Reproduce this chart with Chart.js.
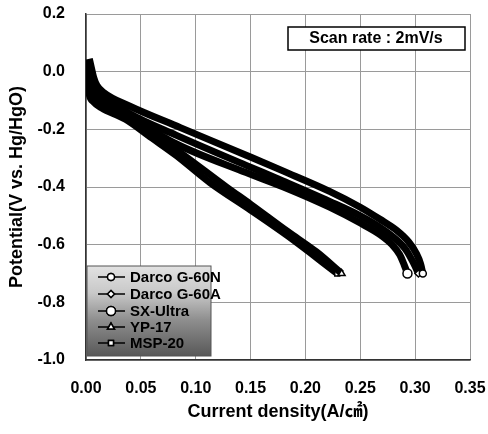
<!DOCTYPE html>
<html>
<head>
<meta charset="utf-8">
<script src="https://cdn.jsdelivr.net/npm/chart.js@4.4.1/dist/chart.umd.min.js"></script>
<style>
  html, body { margin: 0; padding: 0; background: #fff; }
  #wrap { width: 488px; height: 434px; position: relative; }
</style>
</head>
<body>
<div id="wrap"><canvas id="polarization-chart"></canvas></div>
<script>
// Axis ticks
const xTicks = [0, 0.05, 0.10, 0.15, 0.20, 0.25, 0.30, 0.35];
const yTicks = [-1.0, -0.8, -0.6, -0.4, -0.2, 0.0, 0.2];

// Series names (legend order)
const seriesNames = ['Darco G-60N', 'Darco G-60A', 'SX-Ultra', 'YP-17', 'MSP-20'];

// Darco G-60N
const g60nX = [0.003, 0.005, 0.007, 0.01, 0.016, 0.04, 0.086, 0.146, 0.18, 0.222, 0.25, 0.268, 0.283, 0.294, 0.301, 0.305, 0.307];
const g60nY = [0.045, 0.012, -0.02, -0.048, -0.072, -0.12, -0.194, -0.29, -0.345, -0.415, -0.47, -0.512, -0.55, -0.59, -0.63, -0.667, -0.70];

// Darco G-60A
const g60aX = [0.002, 0.003, 0.005, 0.009, 0.016, 0.041, 0.082, 0.146, 0.18, 0.222, 0.25, 0.268, 0.282, 0.292, 0.298, 0.303];
const g60aY = [0.04, 0.005, -0.03, -0.058, -0.085, -0.148, -0.22, -0.325, -0.38, -0.45, -0.50, -0.54, -0.58, -0.62, -0.66, -0.70];

// SX-Ultra
const sxX = [0.001, 0.002, 0.004, 0.008, 0.016, 0.041, 0.082, 0.146, 0.18, 0.222, 0.25, 0.268, 0.279, 0.286, 0.29, 0.293];
const sxY = [0.035, -0.005, -0.042, -0.07, -0.095, -0.158, -0.25, -0.35, -0.40, -0.47, -0.525, -0.565, -0.60, -0.635, -0.67, -0.70];

// YP-17
const yp17X = [0.001, 0.002, 0.004, 0.008, 0.016, 0.041, 0.082, 0.128, 0.15, 0.184, 0.21, 0.233];
const yp17Y = [0.03, -0.02, -0.06, -0.085, -0.11, -0.165, -0.27, -0.40, -0.46, -0.555, -0.625, -0.70];

// MSP-20
const mspX = [0.001, 0.0015, 0.003, 0.007, 0.014, 0.036, 0.06, 0.082, 0.113, 0.15, 0.184, 0.229];
const mspY = [0.025, -0.04, -0.08, -0.105, -0.125, -0.165, -0.23, -0.29, -0.385, -0.48, -0.57, -0.70];

const seriesX = [g60nX, g60aX, sxX, yp17X, mspX];
const seriesY = [g60nY, g60aY, sxY, yp17Y, mspY];
const markerStyles = ['circle', 'rectRot', 'circle', 'triangle', 'rect'];
const markerSizes = [3.5, 3.5, 4.5, 4, 3.5];

const boldFont = "'Liberation Sans', Arial, Helvetica, sans-serif";

// build datasets, markers only show on the last point (the rest is hidden in the thick band)
const datasets = seriesNames.map((name, i) => ({
  label: name,
  data: seriesX[i].map((x, j) => ({ x: x, y: seriesY[i][j] })),
  borderColor: '#000',
  borderWidth: 7,
  cubicInterpolationMode: 'monotone',
  pointStyle: markerStyles[i],
  pointRadius: (ctx) => (ctx.dataIndex === seriesX[i].length - 1 ? markerSizes[i] : 0),
  pointBackgroundColor: '#fff',
  pointBorderColor: '#000',
  pointBorderWidth: 1.5,
  fill: false,
}));

// Draw the scan rate note and the shaded legend box inside the plot
const overlayPlugin = {
  id: 'overlay',
  afterDatasetsDraw(chart) {
    const ctx = chart.ctx;
    ctx.save();

    // scan rate box
    ctx.fillStyle = '#fff';
    ctx.fillRect(288, 27, 177, 23);
    ctx.strokeStyle = '#000';
    ctx.lineWidth = 1.5;
    ctx.strokeRect(288, 27, 177, 23);
    ctx.fillStyle = '#000';
    ctx.font = 'bold 16px ' + boldFont;
    ctx.textAlign = 'center';
    ctx.textBaseline = 'middle';
    ctx.fillText('Scan rate : 2mV/s', 376, 39);

    // legend box with dark gradient
    const lx = 87, ly = 266, lw = 124, lh = 90;
    const grad = ctx.createLinearGradient(0, ly, 0, ly + lh);
    grad.addColorStop(0, '#e2e2e2');
    grad.addColorStop(0.3, '#c8c8c8');
    grad.addColorStop(0.6, '#8e8e8e');
    grad.addColorStop(1, '#585858');
    ctx.fillStyle = grad;
    ctx.fillRect(lx, ly, lw, lh);
    ctx.strokeStyle = '#555';
    ctx.lineWidth = 1;
    ctx.strokeRect(lx, ly, lw, lh);

    const rows = [277, 294, 311, 327, 343];
    ctx.font = 'bold 15px ' + boldFont;
    ctx.textAlign = 'left';
    rows.forEach((ry, i) => {
      ctx.strokeStyle = '#000';
      ctx.lineWidth = 1.5;
      ctx.beginPath();
      ctx.moveTo(98, ry);
      ctx.lineTo(125, ry);
      ctx.stroke();
      Chart.helpers.drawPoint(ctx, {
        pointStyle: markerStyles[i],
        radius: markerSizes[i],
        borderWidth: 1.5,
      }, 111, ry);
      ctx.fillStyle = '#fff';
      ctx.fill();
      ctx.stroke();
      ctx.fillStyle = '#000';
      ctx.fillText(seriesNames[i], 130, ry + 1);
    });

    ctx.restore();
  }
};

// invisible tick marks are used as the gap between axis and labels
// (ticks.padding would also push the plot area inward)
const xGrid = {
  color: '#9a9a9a',
  lineWidth: 1,
  drawTicks: true,
  tickLength: 19,
  tickColor: 'rgba(0,0,0,0)',
};
const yGrid = {
  color: '#9a9a9a',
  lineWidth: 1,
  drawTicks: true,
  tickLength: 21,
  tickColor: 'rgba(0,0,0,0)',
};

const ctx = document.getElementById('polarization-chart').getContext('2d');
const chart = new Chart(ctx, {
  type: 'line',
  data: { datasets: datasets },
  options: {
    responsive: true,
    maintainAspectRatio: false,
    animation: false,
    layout: { padding: { top: 14, right: 18, left: 0, bottom: 0 } },
    scales: {
      x: {
        type: 'linear',
        min: 0,
        max: 0.35,
        afterFit: (scale) => { scale.height = 74; },
        afterBuildTicks: (scale) => { scale.ticks = xTicks.map((v) => ({ value: v })); },
        ticks: {
          padding: 0,
          color: '#000',
          font: { family: boldFont, size: 16, weight: 'bold' },
          callback: (v) => v.toFixed(2),
        },
        grid: xGrid,
        border: { display: true, color: '#333', width: 1.5 },
        title: {
          display: true,
          text: 'Current density(A/㎠)',
          color: '#000',
          font: { family: boldFont + ", 'Noto Sans CJK KR'", size: 18, weight: 'bold' },
          padding: { top: 0, bottom: 11 },
        },
      },
      y: {
        type: 'linear',
        min: -1.0,
        max: 0.2,
        afterFit: (scale) => { scale.width = 86; },
        afterBuildTicks: (scale) => { scale.ticks = yTicks.map((v) => ({ value: v })); },
        ticks: {
          padding: 0,
          color: '#000',
          font: { family: boldFont, size: 16, weight: 'bold' },
          callback: (v) => (Math.abs(v) < 1e-9 ? '0.0' : v.toFixed(1)),
        },
        grid: yGrid,
        border: { display: true, color: '#333', width: 1.5 },
        title: {
          display: true,
          text: 'Potential(V vs. Hg/HgO)',
          color: '#000',
          font: { family: boldFont, size: 18, weight: 'bold' },
          padding: { top: 6, bottom: 0 },
        },
      },
    },
    plugins: {
      legend: { display: false },
      tooltip: { enabled: false },
    },
  },
  plugins: [overlayPlugin],
});

// sparse dotted grid like the scanned figure
chart.options.scales.x.grid.borderDash = [3, 22];
chart.options.scales.y.grid.borderDash = [3, 22];
chart.update();
</script>
</body>
</html>
